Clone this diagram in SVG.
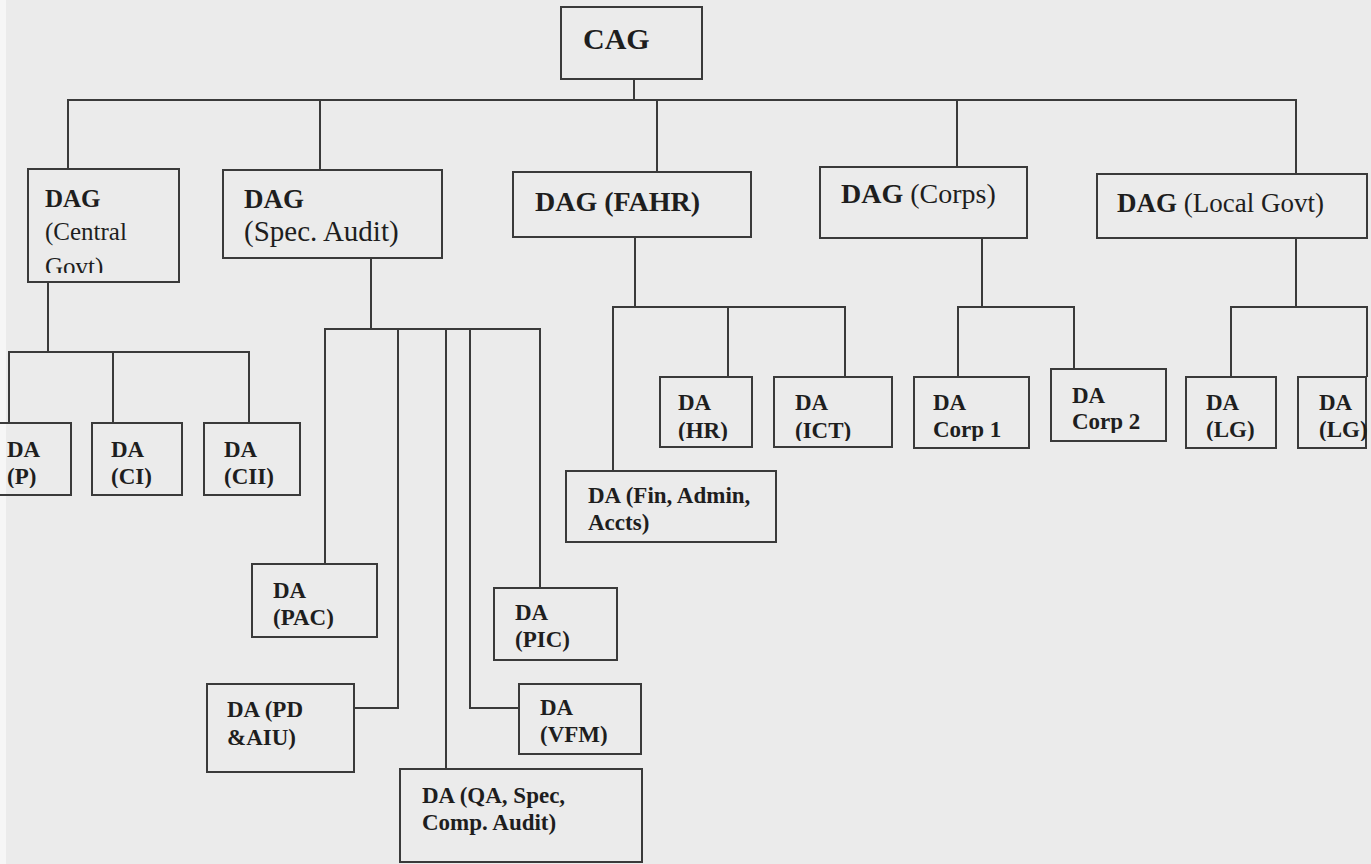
<svg xmlns="http://www.w3.org/2000/svg" width="1371" height="864" viewBox="0 0 1371 864">
<style>
.bg{fill:#ebebeb}
.box{fill:none;stroke:#3a3a3a;stroke-width:2}
.con{fill:none;stroke:#3a3a3a;stroke-width:2}
text{font-family:"Liberation Serif","Times New Roman",serif;fill:#1e1e1e}
.b{font-weight:bold}
.r{font-weight:normal}
.da{font-size:23px;font-weight:bold}
</style>
<defs>
<clipPath id="cCentral"><rect x="28" y="169" width="151" height="104"/></clipPath>
<clipPath id="cP"><rect x="-3" y="423" width="74" height="65"/></clipPath>
<clipPath id="cCI"><rect x="92" y="423" width="90" height="65"/></clipPath>
<clipPath id="cCII"><rect x="204" y="423" width="96" height="65"/></clipPath>
<clipPath id="cHR"><rect x="660" y="377" width="92" height="64"/></clipPath>
<clipPath id="cICT"><rect x="774" y="377" width="118" height="64"/></clipPath>
<clipPath id="cC1"><rect x="914" y="377" width="115" height="64"/></clipPath>
<clipPath id="cC2"><rect x="1051" y="369" width="115" height="64"/></clipPath>
<clipPath id="cLG1"><rect x="1186" y="377" width="90" height="64"/></clipPath>
<clipPath id="cLG2"><rect x="1298" y="377" width="73" height="64"/></clipPath>
<clipPath id="cPAC"><rect x="252" y="564" width="125" height="65"/></clipPath>
<clipPath id="cPIC"><rect x="494" y="588" width="123" height="64"/></clipPath>
<clipPath id="cVFM"><rect x="519" y="684" width="122" height="62"/></clipPath>
</defs>
<rect class="bg" x="0" y="0" width="1371" height="864"/>
<rect x="0" y="0" width="6" height="864" fill="#f6f6f6"/>

<g id="connectors">
<path class="con" d="M634 79V100M67 100H1297M68 100V169M320 100V170M657 100V172M957 100V167M1296 100V174"/>
<path class="con" d="M48 282V352M8 352H250M9 352V423M113 352V423M249 352V423"/>
<path class="con" d="M371 258V329M324 329H541M325 329V564M398 329V708H354M446 329V769M470 329V708H519M540 329V588"/>
<path class="con" d="M635 237V307M612 307H846M613 307V471M728 307V377M845 307V377"/>
<path class="con" d="M982 238V307M957 307H1075M958 307V377M1074 307V369"/>
<path class="con" d="M1296 238V307M1230 307H1368M1231 307V377M1367 307V377"/>
</g>

<g id="cag">
<rect class="box" x="561" y="7" width="141" height="72"/>
<text class="b" x="583" y="49" font-size="30">CAG</text>
</g>

<g id="dag-central">
<rect class="box" x="28" y="169" width="151" height="113"/>
<g clip-path="url(#cCentral)">
<text class="b" x="45" y="207" font-size="25">DAG</text>
<text class="r" x="45" y="240" font-size="25">(Central</text>
<text class="r" x="45" y="275" font-size="25">Govt)</text>
</g>
</g>

<g id="dag-spec">
<rect class="box" x="223" y="170" width="219" height="88"/>
<text class="b" x="244" y="208" font-size="27">DAG</text>
<text class="r" x="244" y="241" font-size="29">(Spec. Audit)</text>
</g>

<g id="dag-fahr">
<rect class="box" x="513" y="172" width="238" height="65"/>
<text class="b" x="535" y="211" font-size="28">DAG (FAHR)</text>
</g>

<g id="dag-corps">
<rect class="box" x="820" y="167" width="207" height="71"/>
<text x="841" y="203" font-size="28"><tspan class="b">DAG</tspan><tspan class="r"> (Corps)</tspan></text>
</g>

<g id="dag-lg">
<rect class="box" x="1097" y="174" width="270" height="64"/>
<text x="1117" y="212" font-size="27"><tspan class="b">DAG</tspan><tspan class="r"> (Local Govt)</tspan></text>
</g>

<g id="da-p">
<rect class="box" x="-3" y="423" width="74" height="72"/>
<g clip-path="url(#cP)"><text class="da" x="7" y="457">DA</text><text class="da" x="7" y="484">(P)</text></g>
</g>
<g id="da-ci">
<rect class="box" x="92" y="423" width="90" height="72"/>
<g clip-path="url(#cCI)"><text class="da" x="111" y="457">DA</text><text class="da" x="111" y="484">(CI)</text></g>
</g>
<g id="da-cii">
<rect class="box" x="204" y="423" width="96" height="72"/>
<g clip-path="url(#cCII)"><text class="da" x="224" y="457">DA</text><text class="da" x="224" y="484">(CII)</text></g>
</g>

<g id="da-hr">
<rect class="box" x="660" y="377" width="92" height="70"/>
<g clip-path="url(#cHR)"><text class="da" x="678" y="410">DA</text><text class="da" x="678" y="438">(HR)</text></g>
</g>
<g id="da-ict">
<rect class="box" x="774" y="377" width="118" height="70"/>
<g clip-path="url(#cICT)"><text class="da" x="795" y="410">DA</text><text class="da" x="795" y="438">(ICT)</text></g>
</g>
<g id="da-fin">
<rect class="box" x="566" y="471" width="210" height="71"/>
<text class="da" x="588" y="503">DA (Fin, Admin,</text>
<text class="da" x="588" y="530">Accts)</text>
</g>

<g id="da-corp1">
<rect class="box" x="914" y="377" width="115" height="71"/>
<g clip-path="url(#cC1)"><text class="da" x="933" y="410">DA</text><text class="da" x="933" y="437">Corp 1</text></g>
</g>
<g id="da-corp2">
<rect class="box" x="1051" y="369" width="115" height="72"/>
<g clip-path="url(#cC2)"><text class="da" x="1072" y="403">DA</text><text class="da" x="1072" y="429">Corp 2</text></g>
</g>
<g id="da-lg1">
<rect class="box" x="1186" y="377" width="90" height="71"/>
<g clip-path="url(#cLG1)"><text class="da" x="1206" y="410">DA</text><text class="da" x="1206" y="437">(LG)</text></g>
</g>
<g id="da-lg2">
<rect class="box" x="1298" y="377" width="68" height="71"/>
<g clip-path="url(#cLG2)"><text class="da" x="1319" y="410">DA</text><text class="da" x="1319" y="437">(LG)</text></g>
</g>

<g id="da-pac">
<rect class="box" x="252" y="564" width="125" height="73"/>
<g clip-path="url(#cPAC)"><text class="da" x="273" y="598">DA</text><text class="da" x="273" y="625">(PAC)</text></g>
</g>
<g id="da-pd">
<rect class="box" x="207" y="684" width="147" height="88"/>
<text class="da" x="227" y="717">DA (PD</text>
<text class="da" x="227" y="745">&amp;AIU)</text>
</g>
<g id="da-pic">
<rect class="box" x="494" y="588" width="123" height="72"/>
<g clip-path="url(#cPIC)"><text class="da" x="515" y="620">DA</text><text class="da" x="515" y="647">(PIC)</text></g>
</g>
<g id="da-vfm">
<rect class="box" x="519" y="684" width="122" height="70"/>
<g clip-path="url(#cVFM)"><text class="da" x="540" y="715">DA</text><text class="da" x="540" y="742">(VFM)</text></g>
</g>
<g id="da-qa">
<rect class="box" x="400" y="769" width="242" height="93"/>
<text class="da" x="422" y="803">DA (QA, Spec,</text>
<text class="da" x="422" y="830">Comp. Audit)</text>
</g>
</svg>
